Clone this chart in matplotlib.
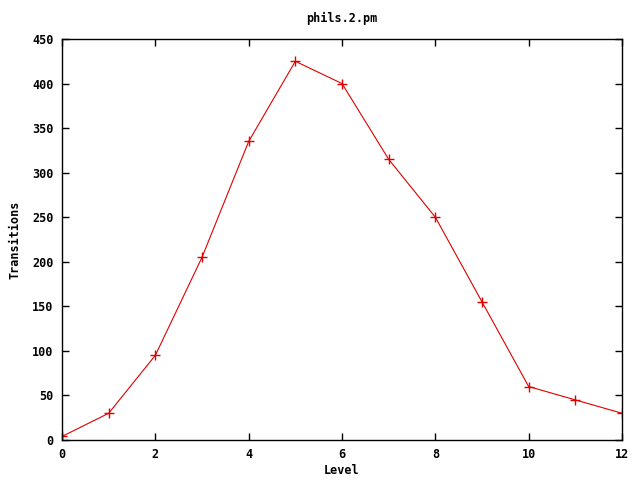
import matplotlib
matplotlib.use('Agg')
import matplotlib.pyplot as plt

# data
levels = [0, 1, 2, 3, 4, 5, 6, 7, 8, 9, 10, 11, 12]
transitions = [4, 30, 95, 205, 335, 425, 400, 315, 250, 155, 60, 45, 30]
x_ticks = [0, 2, 4, 6, 8, 10, 12]
y_ticks = [0, 50, 100, 150, 200, 250, 300, 350, 400, 450]

plt.rcParams['font.family'] = ['DejaVu Sans Mono']
plt.rcParams['font.weight'] = 'bold'
plt.rcParams['font.size'] = 8.5

fig = plt.figure(figsize=(6.4, 4.8), dpi=100)
ax = fig.add_axes([62 / 640, 40 / 480, 560 / 640, 401 / 480])

ax.plot(levels, transitions, color='#e00000', linewidth=0.8,
        marker='+', markersize=6.5, markeredgewidth=1.0)

ax.set_xlim(0, 12)
ax.set_ylim(0, 450)
ax.set_xticks(x_ticks)
ax.set_yticks(y_ticks)
ax.tick_params(direction='in', top=True, right=True, length=5, width=1, pad=6,
               labelsize=8.5)
for s in ax.spines.values():
    s.set_linewidth(1)

ax.set_xlabel('Level', fontweight='bold', fontsize=8.5, labelpad=2)
ax.set_ylabel('Transitions', fontweight='bold', fontsize=8.5, labelpad=8)
ax.set_title('phils.2.pm', fontweight='bold', fontsize=8.5, pad=12)

fig.savefig('out.png', dpi=100)
plt.close(fig)
